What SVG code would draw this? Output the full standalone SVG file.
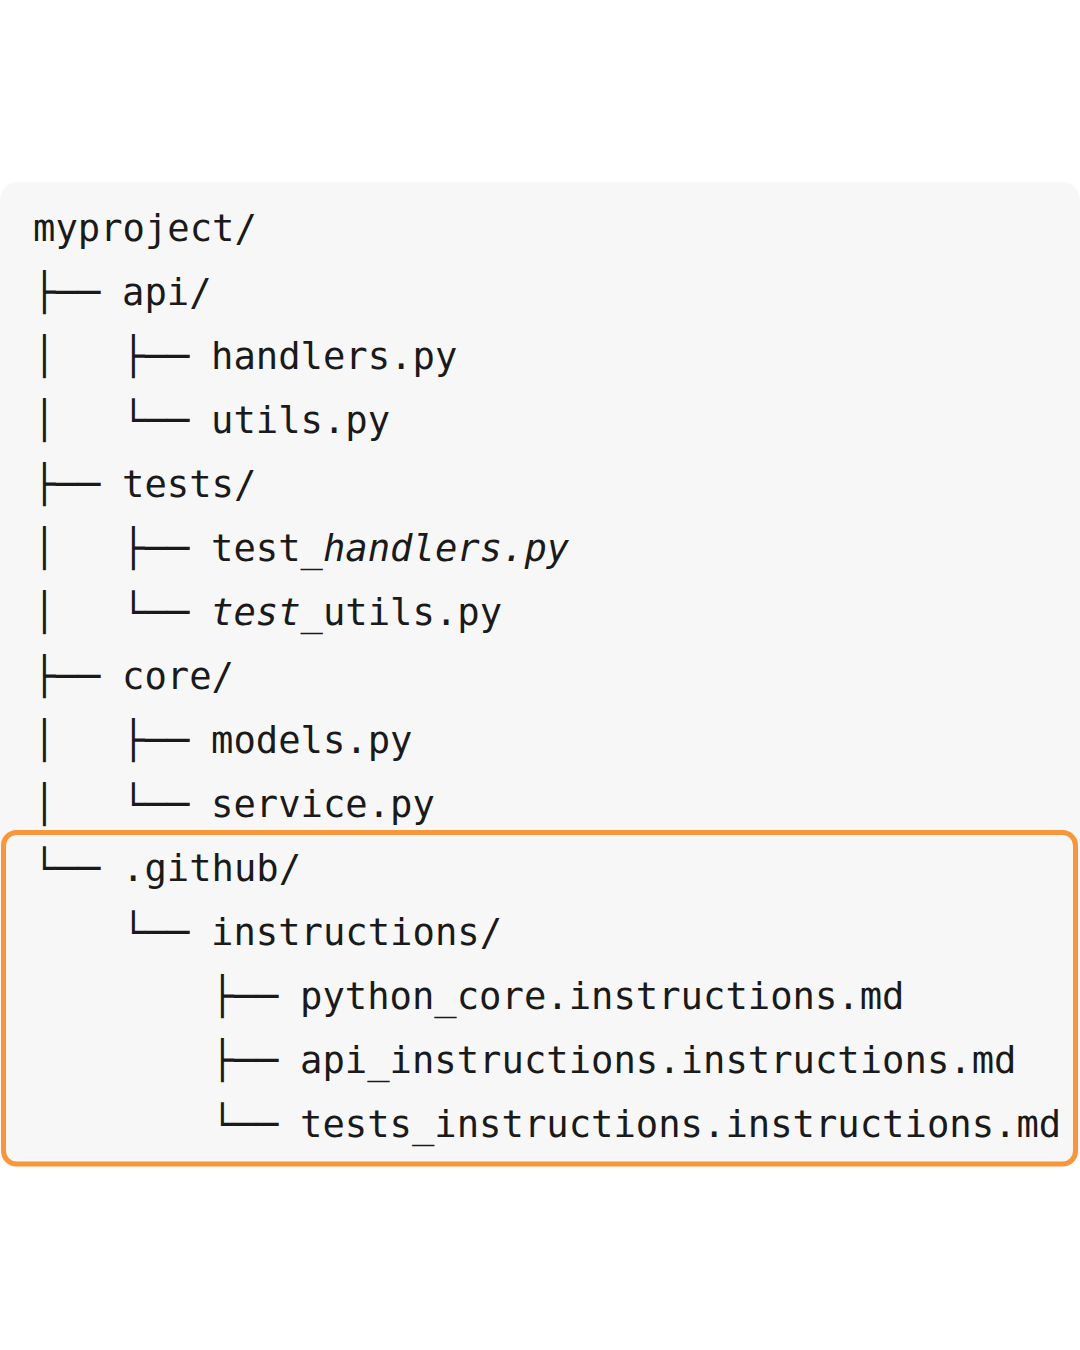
<svg xmlns="http://www.w3.org/2000/svg" width="1080" height="1350" viewBox="0 0 1080 1350">
<style>
.t{font-family:"DejaVu Sans Mono","Liberation Mono",monospace;font-size:37.2px;fill:#1a1a1a}
.i{font-style:italic}
</style>
<rect x="0" y="0" width="1080" height="1350" fill="#ffffff"/>
<rect x="0" y="182" width="1080" height="984" rx="18" fill="#f7f7f7"/>
<rect id="highlight" x="3.5" y="832.5" width="1072" height="331.5" rx="13" fill="none" stroke="#f7963a" stroke-width="5"/>
<g id="connectors" class="t">
<text x="33" y="305">├──</text>
<text x="33" y="369">│</text><text x="122" y="369">├──</text>
<text x="33" y="433">│</text><text x="122" y="433">└──</text>
<text x="33" y="497">├──</text>
<text x="33" y="561">│</text><text x="122" y="561">├──</text>
<text x="33" y="625">│</text><text x="122" y="625">└──</text>
<text x="33" y="689">├──</text>
<text x="33" y="753">│</text><text x="122" y="753">├──</text>
<text x="33" y="817">│</text><text x="122" y="817">└──</text>
<text x="33" y="881">└──</text>
<text x="122" y="945">└──</text>
<text x="211" y="1009">├──</text>
<text x="211" y="1073">├──</text>
<text x="211" y="1137">└──</text>
</g>
<g id="myproject"><text class="t" x="33" y="241">myproject/</text></g>
<g id="api"><text class="t" x="122" y="305">api/</text></g>
<g id="handlers"><text class="t" x="211" y="369">handlers.py</text></g>
<g id="utils"><text class="t" x="211" y="433">utils.py</text></g>
<g id="tests"><text class="t" x="122" y="497">tests/</text></g>
<g id="test_handlers"><text class="t" x="211" y="561">test_<tspan class="i">handlers.py</tspan></text></g>
<g id="test_utils"><text class="t" x="211" y="625"><tspan class="i">test</tspan>_utils.py</text></g>
<g id="core"><text class="t" x="122" y="689">core/</text></g>
<g id="models"><text class="t" x="211" y="753">models.py</text></g>
<g id="service"><text class="t" x="211" y="817">service.py</text></g>
<g id="github"><text class="t" x="122" y="881">.github/</text></g>
<g id="instructions"><text class="t" x="211" y="945">instructions/</text></g>
<g id="python_core"><text class="t" x="300" y="1009">python_core.instructions.md</text></g>
<g id="api_instructions"><text class="t" x="300" y="1073">api_instructions.instructions.md</text></g>
<g id="tests_instructions"><text class="t" x="300" y="1137">tests_instructions.instructions.md</text></g>
</svg>
